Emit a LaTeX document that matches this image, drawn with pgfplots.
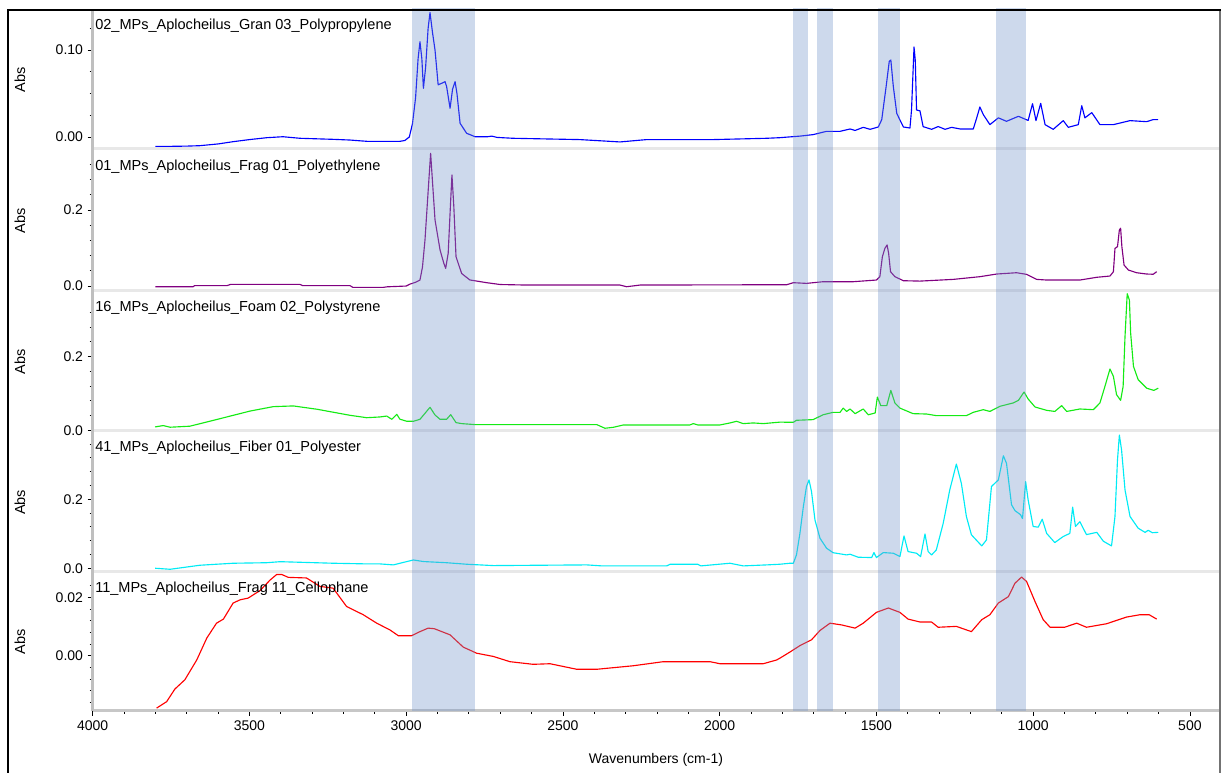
\documentclass[border=0pt]{standalone}
\usepackage{fontspec}
\setmainfont{Liberation Sans}
\usepackage{pgfplots}
\pgfplotsset{compat=1.18}
\definecolor{cBlue}{RGB}{0,0,255}
\definecolor{cPurple}{RGB}{128,0,128}
\definecolor{cGreen}{RGB}{20,235,20}
\definecolor{cCyan}{RGB}{0,235,245}
\definecolor{cRed}{RGB}{255,0,0}
\definecolor{bandcol}{RGB}{112,146,201}
\pgfplotsset{
 panel/.style={
  scale only axis, anchor=south west, width=845.475pt,
  xmin=404, xmax=4000, x dir=reverse,
  axis line style={draw=none}, xtick=\empty,
  ytick pos=left, tick align=outside,
  scaled y ticks=false, scaled x ticks=false,
  major tick length=3.75pt, minor tick length=2.25pt,
  every tick/.style={black, line width=0.6pt},
  tick label style={font=\fontsize{10.5}{12}\selectfont},
  /pgf/number format/assume math mode=true,
  /pgf/number format/set thousands separator={},
  yticklabel style={/pgf/number format/fixed, /pgf/number format/fixed zerofill, /pgf/number format/precision=1},
  every axis plot/.append style={line width=0.85pt, line join=round, mark=none},
 }
}
\begin{document}
\begin{tikzpicture}[font=\fontsize{10.5}{12}\selectfont]
\useasboundingbox (0,0) rectangle (917.25pt,579.75pt);
% Panel 1: polypropylene
\begin{axis}[panel, at={(69.525pt,468pt)}, height=104.25pt, ymin=-0.0138, ymax=0.146,
 ytick={0,0.1}, minor ytick={0.025,0.05,0.075,0.125},
 yticklabel style={/pgf/number format/precision=2}]
\addplot[cBlue] table {
3800 -0.011
3700 -0.0105
3658 -0.010
3600 -0.008
3552 -0.0054
3500 -0.003
3444 -0.0008
3393 0.0003
3339 -0.0015
3233 -0.0027
3180 -0.0035
3125 -0.005
3020 -0.005
3004 -0.004
2990 0.000
2980 0.015
2970 0.045
2962 0.090
2956 0.1095
2950 0.090
2945 0.056
2938 0.080
2930 0.125
2924 0.143
2916 0.120
2908 0.100
2898 0.060
2885 0.062
2876 0.0636
2871 0.058
2860 0.033
2852 0.055
2844 0.0636
2838 0.050
2828 0.0157
2807 0.0042
2780 0.0003
2740 0.0003
2727 0.001
2710 -0.0005
2659 -0.0015
2446 -0.003
2318 -0.0057
2233 -0.003
2021 -0.003
1850 -0.0015
1808 -0.0008
1744 0.001
1702 0.0027
1659 0.0065
1616 0.0065
1584 0.0092
1568 0.0075
1542 0.0111
1520 0.0088
1494 0.0115
1483 0.0199
1469 0.058
1459 0.087
1454 0.0885
1446 0.0578
1435 0.027
1414 0.0115
1393 0.0103
1388 0.031
1380 0.1035
1376 0.088
1372 0.031
1361 0.030
1351 0.0119
1324 0.0088
1303 0.012
1281 0.0088
1260 0.0111
1233 0.0092
1191 0.0092
1180 0.022
1170 0.0345
1159 0.0257
1138 0.0142
1111 0.022
1085 0.018
1047 0.0238
1016 0.019
1002 0.0383
991 0.0188
976 0.0387
962 0.0142
936 0.0088
904 0.0188
888 0.0111
856 0.0142
845 0.036
835 0.022
813 0.028
787 0.0142
744 0.0142
691 0.0188
638 0.0176
617 0.020
601 0.020
};
\end{axis}
% Panel 2: polyethylene
\begin{axis}[panel, at={(69.525pt,361.5pt)}, height=105pt, ymin=-0.013, ymax=0.355,
 ytick={0,0.2}, minor ytick={0.04,0.08,0.12,0.16,0.24,0.28,0.32}]
\addplot[cPurple] table {
3800 -0.002
3680 -0.002
3675 0.001
3572 0.001
3560 0.0044
3339 0.0044
3330 0.001
3179 0.001
3170 -0.0035
3073 -0.0035
3060 -0.002
3000 0.000
2988 0.005
2970 0.010
2956 0.0158
2948 0.050
2940 0.121
2929 0.261
2922 0.349
2915 0.261
2908 0.174
2892 0.095
2880 0.060
2874 0.0465
2866 0.086
2858 0.226
2854 0.292
2848 0.209
2841 0.077
2823 0.033
2797 0.016
2743 0.0088
2700 0.004
2616 0.0026
2318 0.0026
2297 -0.0018
2254 0.0026
1786 0.0035
1765 0.0088
1723 0.007
1670 0.0114
1574 0.0114
1500 0.0158
1489 0.0246
1481 0.077
1473 0.099
1466 0.108
1461 0.086
1455 0.0377
1441 0.0246
1414 0.014
1361 0.013
1255 0.0175
1170 0.0246
1116 0.0316
1053 0.035
1021 0.0307
989 0.0175
957 0.0158
851 0.0158
797 0.023
755 0.0263
744 0.0377
739 0.099
731 0.1035
725 0.1474
721 0.152
717 0.1035
710 0.055
696 0.042
670 0.035
638 0.0316
617 0.031
606 0.0377
};
\end{axis}
% Panel 3: polystyrene
\begin{axis}[panel, at={(69.525pt,256.5pt)}, height=103.5pt, ymin=-0.002, ymax=0.372,
 ytick={0,0.2}, minor ytick={0.04,0.08,0.12,0.16,0.24,0.28,0.32}]
\addplot[cGreen] table {
3801 0.009
3775 0.0127
3753 0.0082
3690 0.011
3605 0.029
3498 0.052
3424 0.064
3360 0.0659
3285 0.057
3179 0.0405
3126 0.034
3084 0.036
3062 0.0385
3046 0.0297
3030 0.0432
3020 0.030
2998 0.0243
2977 0.0243
2956 0.0297
2940 0.0459
2924 0.0622
2908 0.0414
2892 0.0297
2871 0.0297
2858 0.0423
2841 0.0207
2823 0.018
2780 0.0153
2392 0.0153
2366 0.0054
2339 0.008
2307 0.0144
2095 0.0144
2084 0.018
2070 0.0144
1999 0.0144
1967 0.0198
1946 0.0243
1925 0.018
1893 0.0198
1861 0.018
1808 0.022
1765 0.0216
1755 0.027
1702 0.0288
1670 0.042
1638 0.0486
1616 0.0486
1606 0.060
1595 0.051
1584 0.0576
1568 0.045
1542 0.0576
1526 0.042
1504 0.0468
1497 0.090
1486 0.0667
1467 0.0667
1454 0.108
1441 0.0739
1425 0.060
1383 0.045
1340 0.044
1309 0.0396
1213 0.0396
1191 0.0486
1159 0.0558
1138 0.051
1106 0.0649
1064 0.0739
1047 0.081
1029 0.1036
1016 0.0847
994 0.063
957 0.054
931 0.051
909 0.0667
893 0.051
851 0.0576
808 0.0558
787 0.0739
771 0.119
755 0.166
744 0.146
734 0.0964
721 0.081
713 0.119
707 0.254
700 0.370
693 0.353
689 0.263
680 0.173
665 0.137
638 0.114
615 0.108
601 0.114
};
\end{axis}
% Panel 4: polyester
\begin{axis}[panel, at={(69.525pt,150.975pt)}, height=104.025pt, ymin=-0.01, ymax=0.392,
 ytick={0,0.2}, minor ytick={0.04,0.08,0.12,0.16,0.24,0.28,0.32,0.36}]
\addplot[cCyan] table {
3801 0.0
3753 -0.003
3658 0.0087
3552 0.0145
3445 0.016
3402 0.019
3233 0.0145
3126 0.0126
3084 0.0126
3041 0.0097
2977 0.024
2945 0.0194
2871 0.016
2807 0.0116
2722 0.0077
2424 0.0097
2376 0.0068
2169 0.0068
2158 0.0116
2070 0.0116
2060 0.0068
1967 0.0145
1925 0.0068
1850 0.0097
1808 0.0116
1776 0.0145
1765 0.0145
1755 0.0386
1744 0.101
1733 0.179
1723 0.237
1715 0.256
1707 0.222
1696 0.140
1680 0.087
1659 0.058
1638 0.045
1595 0.0386
1584 0.0406
1558 0.0319
1515 0.031
1508 0.0454
1500 0.031
1478 0.0454
1446 0.0435
1425 0.0338
1412 0.0937
1399 0.0483
1372 0.0435
1359 0.0338
1345 0.0995
1335 0.0483
1324 0.0386
1309 0.053
1287 0.130
1266 0.227
1245 0.302
1229 0.246
1213 0.150
1197 0.097
1164 0.0647
1149 0.082
1133 0.237
1111 0.256
1095 0.326
1085 0.304
1069 0.184
1058 0.167
1040 0.155
1034 0.144
1024 0.251
1016 0.198
1000 0.121
984 0.119
971 0.142
957 0.101
931 0.0744
904 0.092
883 0.101
874 0.177
865 0.121
851 0.135
830 0.0975
797 0.104
776 0.0782
750 0.0647
739 0.150
731 0.314
725 0.386
718 0.343
707 0.227
691 0.150
665 0.116
643 0.104
633 0.110
620 0.103
601 0.104
};
\end{axis}
% Panel 5: cellophane
\begin{axis}[panel, at={(69.525pt,46.5pt)}, height=103.5pt, ymin=-0.0189, ymax=0.0284,
 ytick={0,0.02}, minor ytick={-0.016,-0.012,-0.008,-0.004,0.004,0.008,0.012,0.016,0.024},
 yticklabel style={/pgf/number format/precision=2},
 xtick={500,1000,1500,2000,2500,3000,3500,4000},
 minor xtick={600,700,800,900,1100,1200,1300,1400,1600,1700,1800,1900,2100,2200,2300,2400,2600,2700,2800,2900,3100,3200,3300,3400,3600,3700,3800,3900},
 xtick pos=bottom]
\addplot[cRed] table {
3796 -0.0179
3764 -0.0157
3738 -0.0114
3706 -0.0082
3668 -0.0014
3636 0.0061
3605 0.0112
3583 0.0126
3552 0.0181
3530 0.0192
3504 0.0198
3466 0.0224
3434 0.026
3413 0.0279
3397 0.0279
3376 0.0269
3318 0.0267
3275 0.0238
3233 0.0232
3190 0.0169
3137 0.0141
3094 0.0112
3052 0.0089
3025 0.0069
2983 0.0069
2956 0.0083
2930 0.0095
2910 0.0093
2860 0.0072
2818 0.003
2775 0.0009
2722 -0.0002
2669 -0.002
2595 -0.0029
2541 -0.0027
2456 -0.0046
2392 -0.0046
2276 -0.0034
2180 -0.002
2031 -0.002
1999 -0.0027
1861 -0.0027
1818 -0.0014
1808 -0.0008
1776 0.0013
1744 0.0035
1733 0.0041
1707 0.0055
1680 0.0087
1648 0.0112
1611 0.0106
1568 0.0095
1542 0.0112
1500 0.0149
1462 0.0164
1425 0.0149
1399 0.0126
1361 0.0116
1324 0.0116
1303 0.0098
1245 0.0101
1197 0.0083
1164 0.0124
1138 0.0141
1111 0.0181
1079 0.0203
1058 0.0249
1037 0.027
1021 0.0255
994 0.0186
968 0.0124
946 0.0098
900 0.0098
861 0.0112
830 0.0098
766 0.011
702 0.0133
659 0.0141
630 0.0141
606 0.0126
};
\coordinate (b1L) at (axis cs:2982,-0.0189);
\coordinate (b1R) at (axis cs:2780,-0.0189);
\coordinate (b2L) at (axis cs:1766,-0.0189);
\coordinate (b2R) at (axis cs:1718,-0.0189);
\coordinate (b3L) at (axis cs:1690,-0.0189);
\coordinate (b3R) at (axis cs:1639,-0.0189);
\coordinate (b4L) at (axis cs:1495,-0.0189);
\coordinate (b4R) at (axis cs:1425,-0.0189);
\coordinate (b5L) at (axis cs:1119,-0.0189);
\coordinate (b5R) at (axis cs:1023,-0.0189);
\end{axis}
% separators and axis lines
\foreach \yy in {468pt,361.5pt,256.5pt,150.975pt} {
 \draw[black!9, line width=2.25pt] (69.525pt,\yy) -- (915pt,\yy);
}
\draw[black!22, line width=2.25pt] (69.525pt,46.5pt) -- (915pt,46.5pt);
\draw[black!25, line width=2.6pt] (69.525pt,46.5pt) -- (69.525pt,572.25pt);
% bands
\coordinate (topref) at (0,573.75pt);
\foreach \b in {1,...,5} {
 \fill[bandcol, fill opacity=0.35] (b\b L) rectangle (b\b R |- topref);
}
% labels
\foreach \yc in {520.1pt,414pt,308.25pt,203pt,98.25pt} {
 \node[rotate=90, font=\fontsize{10.9}{12}\selectfont] at (15pt,\yc) {Abs};
}
\node[anchor=west, inner sep=0pt, font=\fontsize{10.9}{12}\selectfont] at (71.25pt,560.25pt) {02\_MPs\_Aplocheilus\_Gran 03\_Polypropylene};
\node[anchor=west, inner sep=0pt, font=\fontsize{10.9}{12}\selectfont] at (71.25pt,454.5pt) {01\_MPs\_Aplocheilus\_Frag 01\_Polyethylene};
\node[anchor=west, inner sep=0pt, font=\fontsize{10.9}{12}\selectfont] at (71.25pt,348.75pt) {16\_MPs\_Aplocheilus\_Foam 02\_Polystyrene};
\node[anchor=west, inner sep=0pt, font=\fontsize{10.9}{12}\selectfont] at (71.25pt,243.75pt) {41\_MPs\_Aplocheilus\_Fiber 01\_Polyester};
\node[anchor=west, inner sep=0pt, font=\fontsize{10.9}{12}\selectfont] at (71.25pt,138pt) {11\_MPs\_Aplocheilus\_Frag 11\_Cellophane};
\node[font=\fontsize{10.5}{12}\selectfont] at (492pt,9.75pt) {Wavenumbers (cm-1)};
% frame
\draw[black!55, line width=0.8pt] (915pt,0pt) -- (915pt,572.25pt);
\draw[black, line width=1.5pt] (6pt,0pt) -- (6pt,572.25pt) -- (915.5pt,572.25pt);
\end{tikzpicture}
\end{document}
